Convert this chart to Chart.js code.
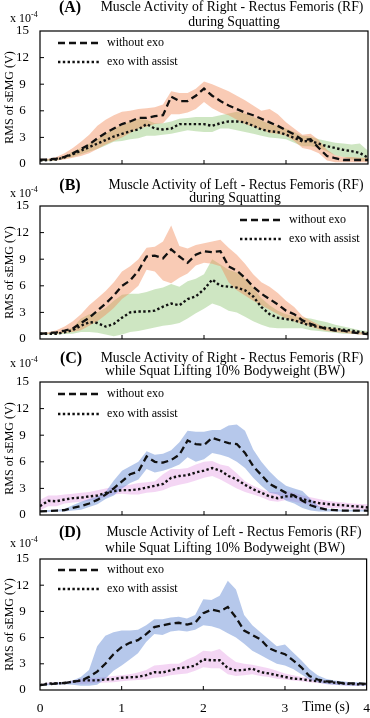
<!DOCTYPE html>
<html>
<head>
<meta charset="utf-8">
<script src="https://cdn.jsdelivr.net/npm/chart.js@4.4.1/dist/chart.umd.min.js"></script>
<style>
  body { margin: 0; background: #fff; }
  #wrap { position: relative; width: 370px; height: 718px; font-family: "Liberation Serif", "Times New Roman", serif; color: #000; overflow: hidden; }
  #wrap canvas { position: absolute; left: 0; }
  .t { position: absolute; white-space: nowrap; transform: translate(-50%, -50%); font-size: 13.7px; line-height: 1; }
  .lab { position: absolute; white-space: nowrap; transform: translate(-50%, -50%); font-size: 16px; font-weight: bold; line-height: 1; }
  .exp { position: absolute; white-space: nowrap; transform: translateY(-50%); font-size: 12px; line-height: 1; }
  .exp sup { font-size: 8px; vertical-align: 5px; }
  .xt { position: absolute; white-space: nowrap; transform: translate(-50%, -50%); font-size: 14px; line-height: 1; }
</style>
</head>
<body>
<div id="wrap">
  <canvas id="cA" width="370" height="175" style="top:0px"></canvas>
  <canvas id="cB" width="370" height="175" style="top:175px"></canvas>
  <canvas id="cC" width="370" height="176" style="top:350px"></canvas>
  <canvas id="cD" width="370" height="192" style="top:526px"></canvas>

  <div class="lab" style="left:70px;top:7px">(A)</div>
  <div class="t" style="left:232px;top:7px">Muscle Activity of Right - Rectus Femoris (RF)</div>
  <div class="t" style="left:234px;top:22px">during Squatting</div>
  <div class="exp" style="left:10px;top:17px">x 10<sup>-4</sup></div>

  <div class="lab" style="left:70px;top:185px">(B)</div>
  <div class="t" style="left:236px;top:185px">Muscle Activity of Left - Rectus Femoris (RF)</div>
  <div class="t" style="left:235px;top:198px">during Squatting</div>
  <div class="exp" style="left:10px;top:192px">x 10<sup>-4</sup></div>

  <div class="lab" style="left:71px;top:358px">(C)</div>
  <div class="t" style="left:232px;top:358px">Muscle Activity of Right - Rectus Femoris (RF)</div>
  <div class="t" style="left:225px;top:371px">while Squat Lifting 10% Bodyweight (BW)</div>
  <div class="exp" style="left:10px;top:362px">x 10<sup>-4</sup></div>

  <div class="lab" style="left:70px;top:532px">(D)</div>
  <div class="t" style="left:234px;top:532px">Muscle Activity of Left - Rectus Femoris (RF)</div>
  <div class="t" style="left:225px;top:548px">while Squat Lifting 10% Bodyweight (BW)</div>
  <div class="exp" style="left:10px;top:542px">x 10<sup>-4</sup></div>

  <div class="xt" style="left:326px;top:707px">Time (s)</div>
</div>

<script>
// time axis (s)
var time = [0,0.1,0.2,0.3,0.4,0.5,0.6,0.7,0.8,0.9,1,1.1,1.2,1.3,1.4,1.5,1.6,1.7,1.8,1.9,2,2.1,2.2,2.3,2.4,2.5,2.6,2.7,2.8,2.9,3,3.1,3.2,3.3,3.4,3.5,3.6,3.7,3.8,3.9,4];
var yTicks = [0, 3, 6, 9, 12, 15];
var xTicks = [0, 1, 2, 3, 4];

// (A) right RF, squatting  (x 10^-4 V)
var withoutA     = [0.5,0.5,0.6,0.8,1.2,1.7,2.2,2.9,3.5,4.0, 4.5,4.8,5.2,5.2,5.4,5.5,7.6,7.1,7.1,7.7, 8.5,7.7,7.1,6.6,6.2,5.8,5.5,5.1,4.7,4.3, 3.8,3.35,2.7,2.8,1.8,0.9,0.65,0.45,0.45,0.45, 0.45];
var withoutA_up  = [0.6,0.6,0.8,1.2,1.8,2.5,3.3,4.3,5.0,5.5, 5.9,6.0,6.2,6.3,6.4,6.7,8.2,8.0,8.0,8.5, 9.3,9.0,8.6,8.2,7.7,7.2,6.6,6.0,6.2,5.6, 4.7,4.0,3.3,3.4,2.7,1.6,1.0,0.8,0.8,0.7, 0.7];
var withoutA_low = [0.4,0.4,0.4,0.5,0.7,0.9,1.2,1.7,2.2,2.6, 3.0,3.5,4.0,4.2,4.5,4.6,5.6,5.6,5.8,6.2, 7.0,6.3,5.8,5.5,5.0,4.5,4.2,3.9,3.5,3.4, 3.2,2.6,1.8,1.6,1.2,0.4,0.2,0.2,0.2,0.2, 0.2];
var assistA      = [0.4,0.45,0.5,0.75,1.1,1.5,1.9,2.3,2.7,3.1, 3.4,3.7,3.9,4.5,4.0,3.9,4.0,4.5,4.5,4.5, 4.5,4.3,4.6,4.8,4.8,4.7,4.3,3.9,3.7,3.6, 3.3,2.95,2.55,2.6,2.3,2.0,1.8,1.6,1.45,1.25, 0.7];
var assistA_up   = [0.5,0.55,0.6,0.9,1.4,1.8,2.3,2.8,3.4,4.0, 4.4,4.8,5.1,5.0,4.6,4.6,4.8,5.1,5.2,5.3, 5.3,5.3,5.5,5.7,5.9,5.7,5.3,4.9,4.5,4.3, 4.0,3.6,3.2,3.1,2.8,2.6,2.4,2.3,2.2,2.3, 1.5];
var assistA_low  = [0.3,0.35,0.4,0.6,0.8,1.1,1.4,1.7,2.1,2.5, 2.6,2.8,2.9,3.2,3.2,3.3,3.4,3.6,3.8,3.7, 3.6,3.6,4.0,4.0,3.8,3.6,3.4,3.2,3.0,2.9, 2.8,2.4,2.0,2.0,1.8,1.4,1.0,0.8,0.5,0.4, 0.3];

// (B) left RF, squatting
var withoutB     = [0.6,0.65,0.75,0.95,1.2,1.8,2.4,3.2,4.0,4.9, 6.0,6.6,7.7,9.3,9.4,9.1,10.1,9.3,8.6,9.5, 9.9,9.8,9.9,8.2,7.7,6.9,5.9,5.1,4.5,3.9, 3.2,2.8,2.1,1.7,1.4,1.1,0.95,0.95,0.75,0.65, 0.55];
var withoutB_up  = [0.7,0.75,1.0,1.4,2.0,2.8,3.8,4.6,5.4,6.4, 7.6,8.2,9.0,10.3,10.4,11.0,12.8,10.5,10.2,10.6, 10.8,11.0,11.2,10.3,9.5,8.5,7.3,6.4,5.9,5.2, 4.3,3.6,2.6,2.1,1.6,1.3,1.2,1.1,0.9,0.8, 0.7];
var withoutB_low = [0.5,0.55,0.55,0.7,0.8,1.0,1.5,2.0,2.7,3.5, 4.5,5.2,6.0,7.8,7.6,6.6,6.3,6.9,7.4,8.3, 8.6,8.5,8.2,6.4,5.5,4.9,4.3,3.8,3.3,2.8, 2.3,2.0,1.7,1.4,1.1,0.9,0.8,0.7,0.6,0.5, 0.4];
var assistB      = [0.6,0.6,0.6,0.75,1.0,1.5,1.9,1.8,1.4,1.7, 2.4,3.0,3.1,3.1,3.2,3.65,4.0,3.8,4.5,4.8, 5.6,6.7,6.0,5.9,5.8,5.5,4.8,3.6,2.8,2.4, 2.25,2.1,1.8,1.5,1.35,1.25,1.15,1.05,0.95,0.8, 0.65];
var assistB_up   = [0.7,0.7,0.7,0.9,1.3,2.3,2.8,3.0,3.5,4.3, 5.0,5.1,5.1,5.3,5.6,5.8,6.2,5.9,6.5,6.8, 7.3,9.0,8.4,7.8,7.5,6.8,5.8,4.6,3.8,3.2, 2.8,2.6,2.4,2.3,2.1,1.9,1.6,1.4,1.2,1.0, 0.9];
var assistB_low  = [0.5,0.5,0.5,0.55,0.6,0.8,0.8,0.7,0.5,0.3, 0.5,0.8,0.9,1.1,1.3,1.5,1.6,1.8,2.3,2.9, 3.4,4.0,3.7,3.2,3.0,2.5,2.0,1.6,1.3,1.2, 1.2,1.2,1.2,1.0,0.9,0.8,0.7,0.6,0.6,0.5, 0.5];

// (C) right RF, squat lifting 10% BW
var withoutC     = [0.4,0.45,0.5,0.55,0.8,1.0,1.3,1.7,2.3,3.0, 3.8,4.6,4.9,6.6,6.0,5.9,6.2,6.8,8.4,8.0, 7.9,8.7,8.4,8.1,8.0,7.0,5.5,4.5,3.5,3.0, 2.5,2.2,1.6,1.1,0.8,0.6,0.55,0.5,0.5,0.5, 0.5];
var withoutC_up  = [0.5,0.55,0.6,0.7,1.1,1.5,1.8,2.1,2.6,3.9, 5.0,5.5,6.0,7.2,6.8,6.9,7.3,8.2,9.5,9.4, 9.4,9.6,9.6,10.1,10.2,9.5,7.4,6.0,4.9,4.0, 3.3,3.0,2.7,1.8,1.0,0.7,0.65,0.6,0.6,0.6, 0.6];
var withoutC_low = [0.3,0.35,0.4,0.4,0.5,0.6,0.9,1.2,1.8,2.2, 3.0,3.6,4.0,5.2,4.8,5.0,5.3,5.7,6.5,6.0, 6.3,7.0,6.8,6.5,6.0,5.3,4.2,3.3,2.5,2.3, 1.6,1.3,0.8,0.5,0.4,0.4,0.4,0.4,0.4,0.4, 0.4];
var assistC      = [1.0,1.6,1.55,1.75,1.9,1.95,2.1,2.2,2.5,2.7, 2.8,2.8,2.9,3.1,3.3,3.5,4.2,4.4,4.5,4.8, 5.0,5.3,5.0,4.4,4.0,3.4,2.9,2.5,2.1,1.9, 2.1,2.1,1.8,1.55,1.35,1.25,1.15,1.1,1.0,0.95, 0.85];
var assistC_up   = [1.7,2.2,2.2,2.3,2.4,2.5,2.6,2.8,3.0,3.2, 3.3,3.4,3.6,3.7,3.8,4.6,5.2,5.2,5.3,5.7, 6.0,6.1,5.7,5.5,4.7,3.8,3.3,2.9,2.6,2.6, 2.7,2.5,2.2,2.0,1.8,1.6,1.5,1.4,1.3,1.25, 1.2];
var assistC_low  = [0.5,1.0,1.0,1.3,1.4,1.5,1.6,1.8,2.0,2.3, 2.4,2.3,2.3,2.5,2.6,2.8,3.2,3.4,3.6,3.9, 4.2,4.4,4.0,3.5,3.0,2.6,2.3,2.0,1.6,1.5, 1.7,1.5,1.3,1.1,0.9,0.8,0.8,0.7,0.7,0.6, 0.6];

// (D) left RF, squat lifting 10% BW
var withoutD     = [0.55,0.65,0.75,0.8,0.95,1.05,1.5,2.1,3.0,4.1, 4.9,5.4,5.7,6.4,7.2,7.4,7.6,7.7,7.5,7.7, 8.8,9.2,9.0,9.5,8.3,6.8,6.3,5.8,4.8,4.4, 4.1,3.4,2.6,1.6,1.2,1.0,0.95,0.8,0.75,0.75, 0.7];
var withoutD_up  = [0.65,0.75,0.85,0.9,1.1,1.5,2.3,5.0,6.2,6.6, 6.8,6.8,6.9,7.4,8.1,8.1,8.3,8.4,8.2,8.6, 10.4,10.3,10.8,12.5,11.5,8.6,7.4,6.6,5.8,5.0, 5.2,4.3,3.4,2.4,1.7,1.3,1.1,1.0,0.9,0.9, 0.8];
var withoutD_low = [0.45,0.55,0.6,0.65,0.6,0.5,0.5,0.6,1.3,2.2, 2.8,3.5,4.2,5.5,6.4,6.3,6.7,6.8,6.7,6.9, 7.4,7.3,7.0,6.5,6.0,5.3,4.5,4.0,3.5,3.0, 2.8,2.4,1.8,1.2,0.9,0.7,0.6,0.55,0.5,0.5, 0.5];
var assistD      = [0.55,0.75,0.75,0.8,0.95,1.1,1.1,1.1,1.2,1.25, 1.4,1.45,1.5,1.7,2.05,2.0,2.25,2.5,2.6,2.8, 3.5,3.4,3.4,2.5,2.25,2.3,2.45,2.05,1.9,1.7, 1.5,1.3,1.25,1.1,1.0,0.95,0.85,0.75,0.7,0.65, 0.65];
var assistD_up   = [0.65,0.85,0.85,0.9,1.1,1.3,1.35,1.4,1.5,1.6, 1.7,1.8,2.0,2.3,2.8,2.9,3.0,3.0,3.5,3.9, 4.5,4.4,4.7,3.9,3.2,3.0,2.9,2.7,2.5,2.2, 1.9,1.7,1.5,1.4,1.2,1.1,1.0,0.9,0.85,0.8, 0.8];
var assistD_low  = [0.45,0.65,0.65,0.7,0.8,0.7,0.75,0.8,0.85,0.9, 1.0,1.1,1.15,1.2,1.4,1.5,1.7,1.8,1.9,2.2, 2.6,2.5,2.5,1.8,1.6,1.7,1.8,1.6,1.5,1.3, 1.2,1.1,1.0,0.9,0.8,0.7,0.6,0.55,0.5,0.5, 0.5];

var serif = '"Liberation Serif", "Times New Roman", serif';

function pts(arr) {
    return time.map(function (t, i) { return {x: t, y: arr[i]}; });
}

// frame, inward tick marks and the legend inside the plot
var framePlugin = {
    id: 'frame',
    afterDraw: function (chart, args, opts) {
        var ctx = chart.ctx;
        var a = chart.chartArea;
        var xs = chart.scales.x, ys = chart.scales.y;
        ctx.save();
        ctx.strokeStyle = '#000';
        ctx.lineWidth = 1.2;
        ctx.strokeRect(a.left, a.top, a.right - a.left, a.bottom - a.top);

        ctx.lineWidth = 1;
        ctx.beginPath();
        xs.ticks.forEach(function (t) {
            if (t.value <= xs.min || t.value >= xs.max) return;
            var px = xs.getPixelForValue(t.value);
            ctx.moveTo(px, a.bottom);
            ctx.lineTo(px, a.bottom - 4);
        });
        ys.ticks.forEach(function (t) {
            if (t.value <= ys.min || t.value >= ys.max) return;
            var py = ys.getPixelForValue(t.value);
            ctx.moveTo(a.left, py);
            ctx.lineTo(a.left + 4, py);
        });
        ctx.stroke();

        // legend
        ctx.font = '12px ' + serif;
        ctx.fillStyle = '#000';
        ctx.textBaseline = 'middle';
        for (var i = 0; i < 2; i++) {
            var ds = chart.data.datasets[i];
            var y = a.top + opts.rows[i];
            ctx.beginPath();
            ctx.setLineDash(ds.borderDash);
            ctx.lineWidth = ds.borderWidth;
            ctx.strokeStyle = ds.borderColor;
            ctx.moveTo(opts.x, y);
            ctx.lineTo(opts.x + 43, y);
            ctx.stroke();
            ctx.setLineDash([]);
            ctx.fillText(ds.label, opts.x + 49, y);
        }
        ctx.restore();
    }
};

function makeChart(id, p) {
    var datasets = [
        {label: 'without exo', data: pts(p.wo), borderColor: '#111', borderWidth: 2.3, borderDash: [7, 4], pointRadius: 0, fill: false, tension: 0},
        {label: 'exo with assist', data: pts(p.as), borderColor: '#111', borderWidth: 2.4, borderDash: [2.4, 2.4], pointRadius: 0, fill: false, tension: 0},
        {label: 'wo_up', data: pts(p.woUp), borderWidth: 0, borderColor: 'transparent', backgroundColor: p.c1, pointRadius: 0, fill: '+1'},
        {label: 'wo_low', data: pts(p.woLow), borderWidth: 0, borderColor: 'transparent', pointRadius: 0, fill: false},
        {label: 'as_up', data: pts(p.asUp), borderWidth: 0, borderColor: 'transparent', backgroundColor: p.c2, pointRadius: 0, fill: '+1'},
        {label: 'as_low', data: pts(p.asLow), borderWidth: 0, borderColor: 'transparent', pointRadius: 0, fill: false}
    ];

    new Chart(document.getElementById(id).getContext('2d'), {
        type: 'line',
        data: {datasets: datasets},
        options: {
            responsive: false,
            animation: false,
            devicePixelRatio: 1,
            layout: {padding: {top: p.top, right: 2, bottom: p.bottom, left: 0}},
            plugins: {
                legend: {display: false},
                tooltip: {enabled: false},
                frame: {x: p.legX, rows: p.legRows}
            },
            scales: {
                x: {
                    type: 'linear',
                    min: 0,
                    max: 4,
                    afterBuildTicks: function (s) { s.ticks = xTicks.map(function (v) { return {value: v}; }); },
                    ticks: {display: p.xLabels, color: '#000', padding: 0, maxRotation: 0, autoSkip: false, font: {family: serif, size: 13.5}},
                    // grid hidden; tickLength only offsets the labels
                    grid: {display: false, drawTicks: true, tickLength: 10},
                    border: {display: false},
                    afterFit: function (s) { s.height = p.xLabels ? 28 : 0; }
                },
                y: {
                    min: 0,
                    max: 15,
                    afterBuildTicks: function (s) { s.ticks = yTicks.map(function (v) { return {value: v}; }); },
                    ticks: {color: '#000', padding: 0, crossAlign: 'center', font: {family: serif, size: 13}},
                    grid: {display: false, drawTicks: true, tickLength: 11},
                    border: {display: false},
                    title: {display: true, text: 'RMS of sEMG (V)', color: '#000', font: {family: serif, size: 12}, padding: {top: 3, bottom: 0}},
                    afterFit: function (s) { s.width = 40; }
                }
            }
        },
        plugins: [framePlugin]
    });
}

var orange = 'rgba(242,140,90,0.45)';
var green = 'rgba(125,190,95,0.38)';
var blue = 'rgba(110,145,215,0.5)';
var pink = 'rgba(225,140,225,0.36)';

makeChart('cA', {wo: withoutA, woUp: withoutA_up, woLow: withoutA_low, as: assistA, asUp: assistA_up, asLow: assistA_low,
    c1: orange, c2: green, top: 31, bottom: 11, xLabels: false, legX: 58, legRows: [12, 31]});
makeChart('cB', {wo: withoutB, woUp: withoutB_up, woLow: withoutB_low, as: assistB, asUp: assistB_up, asLow: assistB_low,
    c1: orange, c2: green, top: 31, bottom: 11, xLabels: false, legX: 240, legRows: [14, 33]});
makeChart('cC', {wo: withoutC, woUp: withoutC_up, woLow: withoutC_low, as: assistC, asUp: assistC_up, asLow: assistC_low,
    c1: blue, c2: pink, top: 32, bottom: 11, xLabels: false, legX: 58, legRows: [12, 32]});
makeChart('cD', {wo: withoutD, woUp: withoutD_up, woLow: withoutD_low, as: assistD, asUp: assistD_up, asLow: assistD_low,
    c1: blue, c2: pink, top: 33, bottom: 0, xLabels: true, legX: 58, legRows: [11, 30]});
</script>
</body>
</html>
